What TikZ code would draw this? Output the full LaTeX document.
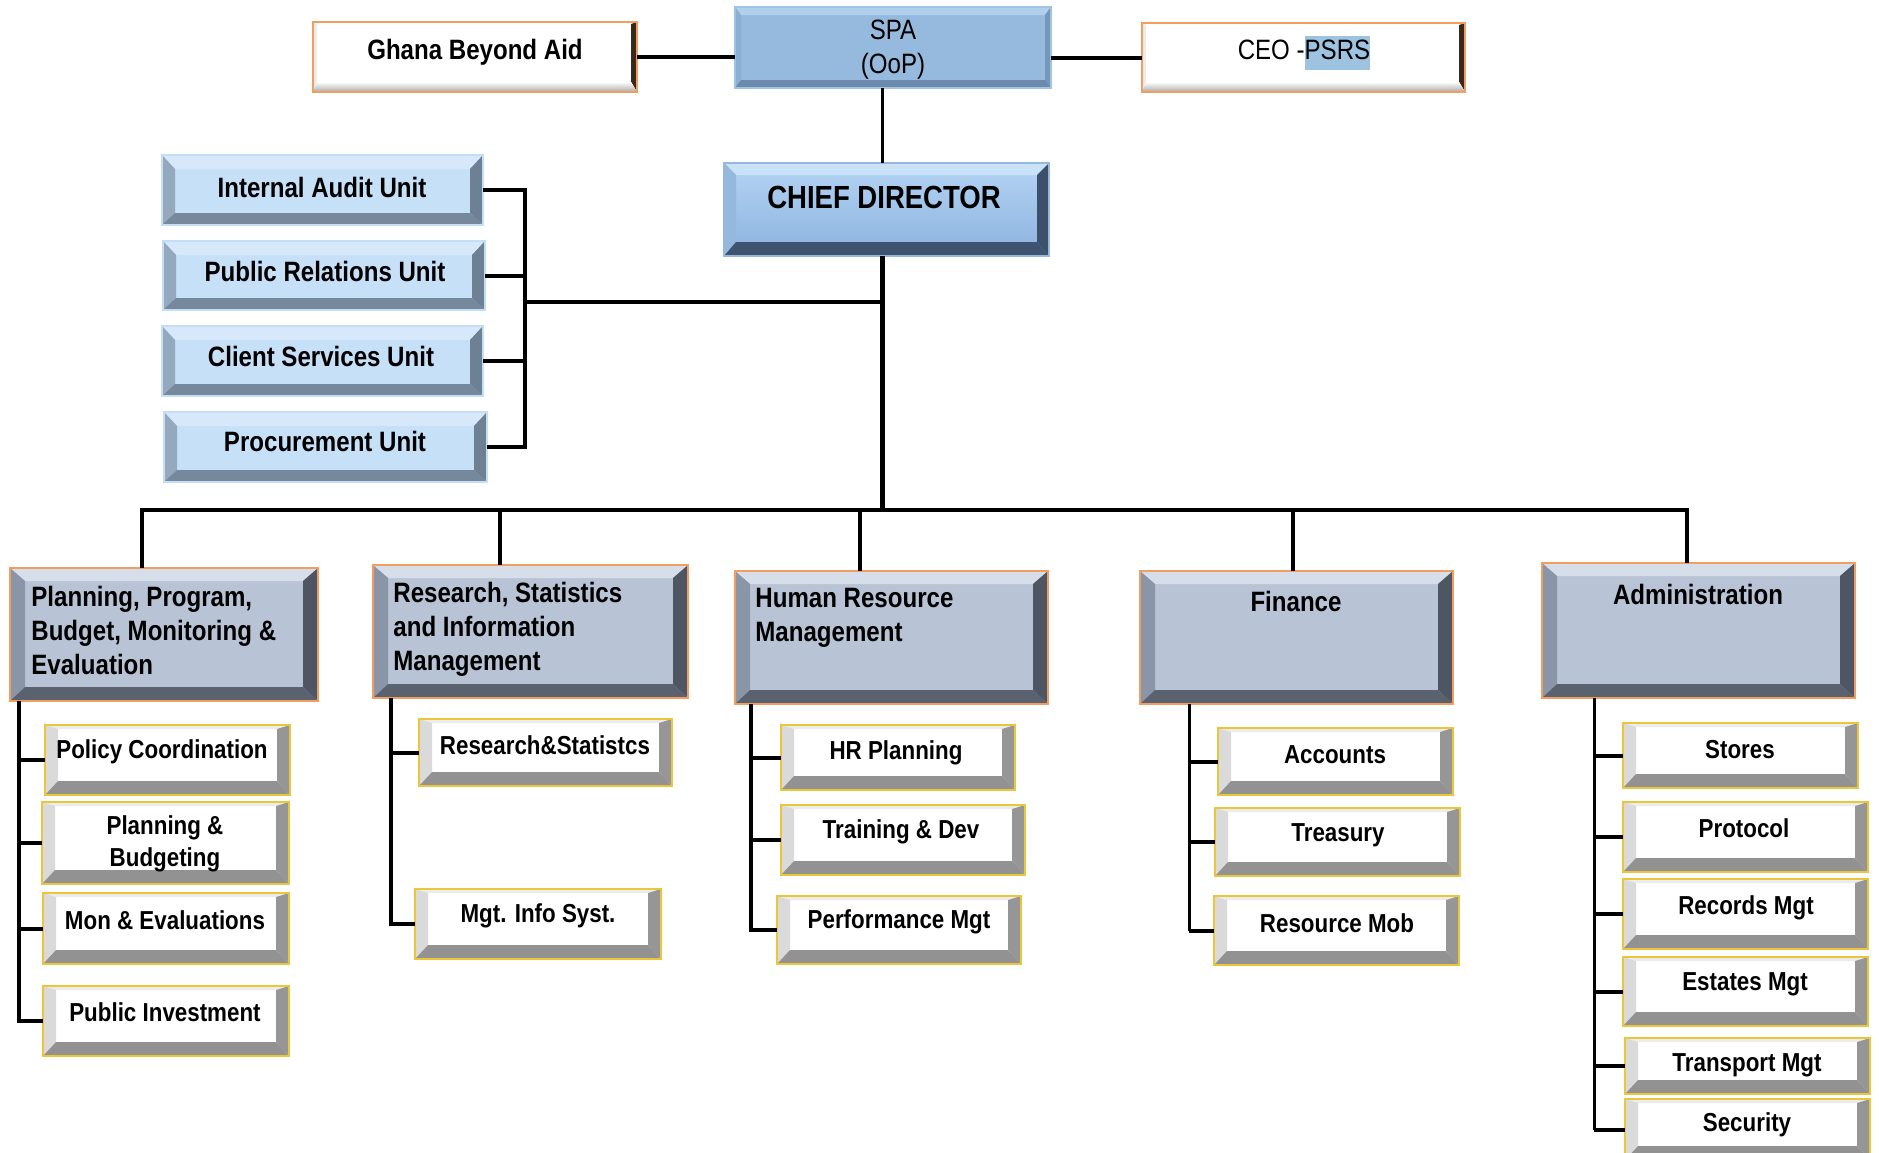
\documentclass[tikz,border=0pt]{standalone}
\usepackage{fontspec}
\setmainfont{Liberation Sans}[FakeStretch=0.86]
\usetikzlibrary{calc}
\definecolor{orangeb}{RGB}{242,158,96}
\definecolor{deptface}{RGB}{184,196,214}
\definecolor{depttop}{RGB}{214,222,234}
\definecolor{deptleft}{RGB}{138,150,168}
\definecolor{deptright}{RGB}{78,86,100}
\definecolor{deptbot}{RGB}{90,98,112}
\definecolor{subborder}{RGB}{236,198,58}
\definecolor{subtop}{RGB}{236,236,236}
\definecolor{subleft}{RGB}{218,218,218}
\definecolor{subright}{RGB}{150,150,150}
\definecolor{subbot}{RGB}{146,146,146}
\definecolor{unitface}{RGB}{198,224,248}
\definecolor{unitborder}{RGB}{196,222,246}
\definecolor{unittop}{RGB}{214,232,250}
\definecolor{unitleft}{RGB}{148,168,190}
\definecolor{unitright}{RGB}{110,128,148}
\definecolor{unitbot}{RGB}{118,136,156}
\definecolor{spaface}{RGB}{150,186,222}
\definecolor{spaborder}{RGB}{160,196,230}
\definecolor{spatop}{RGB}{178,208,238}
\definecolor{spaleft}{RGB}{140,176,212}
\definecolor{sparight}{RGB}{118,150,186}
\definecolor{spabot}{RGB}{108,138,172}
\definecolor{chieftopc}{RGB}{180,212,244}
\definecolor{chiefbotc}{RGB}{140,178,222}
\definecolor{chieftop}{RGB}{202,226,248}
\definecolor{chiefleft}{RGB}{150,184,220}
\definecolor{chiefright}{RGB}{60,80,108}
\definecolor{chiefbot}{RGB}{62,84,112}
\definecolor{whright}{RGB}{58,40,26}
\definecolor{whbot}{RGB}{168,168,168}
\definecolor{whleft}{RGB}{236,236,236}
\definecolor{hl}{RGB}{157,195,224}
\tikzset{
  bev/.style n args={8}{path picture={
    \fill[#5] (path picture bounding box.north west) -- (path picture bounding box.north east) -- ([shift={(-#3,-#1)}]path picture bounding box.north east) -- ([shift={(#2,-#1)}]path picture bounding box.north west) -- cycle;
    \fill[#6] (path picture bounding box.north west) -- ([shift={(#2,-#1)}]path picture bounding box.north west) -- ([shift={(#2,#4)}]path picture bounding box.south west) -- (path picture bounding box.south west) -- cycle;
    \fill[#7] (path picture bounding box.north east) -- ([shift={(-#3,-#1)}]path picture bounding box.north east) -- ([shift={(-#3,#4)}]path picture bounding box.south east) -- (path picture bounding box.south east) -- cycle;
    \fill[#8] (path picture bounding box.south west) -- ([shift={(#2,#4)}]path picture bounding box.south west) -- ([shift={(-#3,#4)}]path picture bounding box.south east) -- (path picture bounding box.south east) -- cycle;
  }},
  subbox/.style={draw=subborder, line width=1pt, fill=white,
    bev={2pt}{6.5pt}{6.5pt}{7pt}{subtop}{subleft}{subright}{subbot}},
  deptbox/.style={draw=orangeb, line width=1pt, fill=deptface,
    bev={6.5pt}{7.5pt}{7.5pt}{7pt}{depttop}{deptleft}{deptright}{deptbot}},
  unitbox/.style={draw=unitborder, line width=1pt, fill=unitface,
    bev={7pt}{6.5pt}{6.5pt}{6pt}{unittop}{unitleft}{unitright}{unitbot}},
  spabox/.style={draw=spaborder, line width=1pt, fill=spaface,
    bev={4pt}{3pt}{3pt}{4pt}{spatop}{spaleft}{sparight}{spabot}},
  chiefbox/.style={draw=chiefleft, line width=0.8pt, top color=chieftopc, bottom color=chiefbotc,
    bev={6pt}{6pt}{6pt}{7pt}{chieftop}{chiefleft}{chiefright}{chiefbot}},
  whbox/.style={draw=orangeb, line width=1.2pt, fill=white,
    bev={1pt}{2pt}{3pt}{5pt}{white}{whleft}{whright}{{top color=white,bottom color=whbot}}},
  txt/.style={inner sep=0pt, font=\bfseries\fontsize{14}{16.5}\selectfont, align=center},
  stxt/.style={inner sep=0pt, font=\bfseries\fontsize{13}{16}\selectfont, align=center},
  dtxt/.style={inner sep=0pt, font=\bfseries\fontsize{14}{17}\selectfont, align=left},
  ln/.style={line width=2pt, black},
  thin/.style={line width=1.5pt, black},
  trunk/.style={line width=2.5pt, black},
}
\newcommand\bx[6]{\node[#6, inner sep=0pt, outer sep=0pt, minimum width={(#4-#2)*0.5pt}, minimum height={(#5-#3)*0.5pt}] (#1) at ({(#2+#4)/2},{(#3+#5)/2}) {};}
\begin{document}
\begin{tikzpicture}[x=0.5pt,y=-0.5pt]
\useasboundingbox[fill=white] (0,0) rectangle (1879,1152);
% top row
\bx{ghana}{313}{22}{637}{92}{whbox}
\node[txt] (ghanat) at (475,52) {Ghana Beyond Aid};
\bx{spa}{735}{7}{1051}{88}{spabox}
\node[txt, font=\fontsize{14}{17}\selectfont] (spat) at (893,50) {SPA\\(OoP)};
\bx{ceo}{1142}{23}{1465}{92}{whbox}
\node[txt, font=\fontsize{14}{17}\selectfont] (ceot) at (1304,53) {CEO -{\fboxsep=0pt\colorbox{hl}{\strut PSRS}}};
\bx{chief}{724}{163}{1049}{256}{chiefbox}
\node[txt, font=\bfseries\fontsize{16}{19}\selectfont] (chieft) at (884,197) {CHIEF DIRECTOR};
% units
\bx{iau}{162}{155}{483}{225}{unitbox}
\node[txt] (iaut) at (322,187) {Internal Audit Unit};
\bx{pru}{163}{241}{485}{310}{unitbox}
\node[txt] (prut) at (325,271) {Public Relations Unit};
\bx{csu}{162}{326}{483}{396}{unitbox}
\node[txt] (csut) at (321,356) {Client Services Unit};
\bx{proc}{164}{412}{487}{482}{unitbox}
\node[txt] (proct) at (325,441) {Procurement Unit};
% departments
\bx{ppb}{10}{568}{318}{701}{deptbox}
\node[dtxt, anchor=north west] (ppbt) at (31,586) {Planning, Program,\\Budget, Monitoring \&\\Evaluation};
\bx{rsim}{373}{565}{688}{698}{deptbox}
\node[dtxt, anchor=north west] (rsimt) at (393,582) {Research, Statistics\\and Information\\Management};
\bx{hrm}{735}{571}{1048}{704}{deptbox}
\node[dtxt, anchor=north west] (hrmt) at (755,588) {Human Resource\\Management};
\bx{fin}{1140}{571}{1453}{704}{deptbox}
\node[txt] (fint) at (1296,601) {Finance};
\bx{adm}{1542}{563}{1855}{698}{deptbox}
\node[txt] (admt) at (1698,594) {Administration};
% planning subs
\bx{pc}{45}{725}{290}{795}{subbox}
\node[stxt] (pct) at (162,752) {Policy Coordination};
\bx{pb}{42}{802}{289}{884}{subbox}
\node[stxt] (pbt) at (165,844) {Planning \&\\Budgeting};
\bx{me}{43}{893}{289}{964}{subbox}
\node[stxt] (met) at (165,920) {Mon \& Evaluations};
\bx{pi}{43}{986}{289}{1056}{subbox}
\node[stxt] (pit) at (165,1012) {Public Investment};
% research subs
\bx{rs}{419}{719}{672}{786}{subbox}
\node[stxt] (rst) at (545,745) {Research\&Statistcs};
\bx{mis}{415}{889}{661}{959}{subbox}
\node[stxt] (mist) at (538,916) {Mgt. Info Syst.};
% HR subs
\bx{hrp}{781}{725}{1015}{790}{subbox}
\node[stxt] (hrpt) at (896,753) {HR Planning};
\bx{td}{781}{805}{1025}{875}{subbox}
\node[stxt] (tdt) at (901,832) {Training \& Dev};
\bx{pm}{777}{896}{1021}{964}{subbox}
\node[stxt] (pmt) at (899,922) {Performance Mgt};
% finance subs
\bx{acc}{1218}{728}{1453}{795}{subbox}
\node[stxt] (acct) at (1335,755) {Accounts};
\bx{tre}{1215}{808}{1460}{876}{subbox}
\node[stxt] (tret) at (1338,835) {Treasury};
\bx{rm}{1214}{896}{1459}{965}{subbox}
\node[stxt] (rmt) at (1337,923) {Resource Mob};
% admin subs
\bx{sto}{1623}{723}{1858}{788}{subbox}
\node[stxt] (stot) at (1740,750) {Stores};
\bx{pro}{1623}{802}{1868}{872}{subbox}
\node[stxt] (prot) at (1744,828) {Protocol};
\bx{rec}{1623}{879}{1868}{949}{subbox}
\node[stxt] (rect) at (1746,908) {Records Mgt};
\bx{est}{1623}{957}{1868}{1026}{subbox}
\node[stxt] (estt) at (1745,984) {Estates Mgt};
\bx{tm}{1625}{1038}{1870}{1094}{subbox}
\node[stxt] (tmt) at (1747,1065) {Transport Mgt};
\bx{sec}{1625}{1099}{1870}{1160}{subbox}
\node[stxt] (sect) at (1747,1125) {Security};
% connectors top
\draw[ln] (ghana.east) -- (ghana.east -| spa.west);
\draw[ln] (spa.east |- ceo.west) -- (ceo.west);
\draw[thin] ([xshift=-2.25pt]chief.north |- spa.south) -- ([xshift=-2.25pt]chief.north);
\coordinate (bus) at (0,510);
\draw[trunk] ([xshift=-2.25pt]chief.south) -- ([xshift=-2.25pt]chief.south |- bus);
% bracket of units
\coordinate (brx) at (525,302);
\draw[ln] (iau.east) -- (iau.east -| brx) -- (proc.east -| brx) -- (proc.east);
\draw[ln] (pru.east) -- (pru.east -| brx);
\draw[ln] (csu.east) -- (csu.east -| brx);
\draw[ln] (brx) -- ([xshift=-2.25pt]chief.south |- brx);
% bus and drops
\draw[ln] ([xshift=-11pt]ppb.north) |- ([xshift=-6pt]adm.north |- bus) -- ([xshift=-6pt]adm.north);
\draw[ln] ([xshift=-15.5pt]rsim.north) -- ([xshift=-15.5pt]rsim.north |- bus);
\draw[ln] ([xshift=-16pt]hrm.north) -- ([xshift=-16pt]hrm.north |- bus);
\draw[ln] ([xshift=-2pt]fin.north) -- ([xshift=-2pt]fin.north |- bus);
% columns
\coordinate (cP) at ([xshift=4.5pt]ppb.south west);
\draw[ln] (cP) |- (pi.west);
\draw[ln] (cP |- pc.west) -- (pc.west);
\draw[ln] (cP |- pb.west) -- (pb.west);
\draw[ln] (cP |- me.west) -- (me.west);
\coordinate (cR) at ([xshift=9pt]rsim.south west);
\draw[ln] (cR) |- (mis.west);
\draw[ln] (cR |- rs.west) -- (rs.west);
\coordinate (cH) at ([xshift=8pt]hrm.south west);
\draw[ln] (cH) |- (pm.west);
\draw[ln] (cH |- hrp.west) -- (hrp.west);
\draw[ln] (cH |- td.west) -- (td.west);
\coordinate (cF) at ([xshift=24.5pt]fin.south west);
\draw[thin] (cF) -- (cF |- rm.west);
\draw[ln] (cF |- acc.west) -- (acc.west);
\draw[ln] (cF |- tre.west) -- (tre.west);
\draw[ln] (cF |- rm.west) -- (rm.west);
\coordinate (cA) at ([xshift=26pt]adm.south west);
\draw[thin] (cA) -- (cA |- sec.west);
\foreach \s in {sto,pro,rec,est,tm,sec} \draw[ln] (cA |- \s.west) -- (\s.west);
\end{tikzpicture}
\end{document}
